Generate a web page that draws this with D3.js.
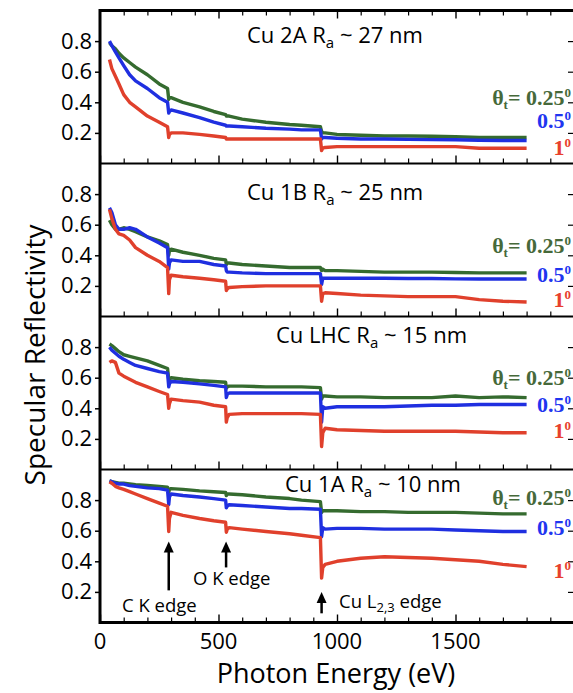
<!DOCTYPE html>
<html><head><meta charset="utf-8">
<script src="https://cdn.jsdelivr.net/npm/d3@7"></script>
<style>body{margin:0;background:#fff}svg{display:block}</style>
</head><body>
<svg id="chart" width="573" height="693"></svg>
<script>
// ---------- data ----------
const energy = [40, 50, 65, 80, 100, 125, 150, 200, 250, 285, 290, 293, 300, 350, 420, 480, 530, 533, 537, 545, 600, 700, 800, 850, 930, 935, 940, 950, 1000, 1100, 1200, 1300, 1400, 1500, 1600, 1700, 1800];

const panelNames = ["Cu 2A", "Cu 1B", "Cu LHC", "Cu 1A"];
const roughness = ["27", "25", "15", "10"];
const angleLabels = ["0.25", "0.5", "1"];
const xTicks = [0, 500, 1000, 1500];
const yTicks = [0.2, 0.4, 0.6, 0.8];
const edgeEnergies = [290, 532, 935];
const edgeLabels = ["C K edge", "O K edge", "Cu L"];

const cu2A_025 = [0.79,0.77,0.75,0.72,0.69,0.66,0.63,0.58,0.52,0.49,0.42,0.43,0.43,0.40,0.37,0.34,0.32,0.31,0.31,0.31,0.29,0.27,0.255,0.25,0.24,0.21,0.20,0.20,0.19,0.185,0.18,0.18,0.178,0.175,0.17,0.17,0.17];
const cu2A_05  = [0.80,0.77,0.73,0.69,0.64,0.58,0.54,0.49,0.43,0.40,0.33,0.34,0.35,0.33,0.30,0.27,0.25,0.245,0.245,0.245,0.24,0.23,0.225,0.22,0.22,0.16,0.17,0.17,0.165,0.16,0.16,0.158,0.156,0.155,0.152,0.15,0.15];
const cu2A_1   = [0.68,0.62,0.57,0.52,0.45,0.40,0.37,0.31,0.27,0.24,0.17,0.19,0.20,0.20,0.19,0.18,0.17,0.16,0.16,0.16,0.16,0.16,0.16,0.16,0.16,0.085,0.10,0.105,0.11,0.11,0.11,0.11,0.11,0.11,0.10,0.10,0.10];

const cu1B_025 = [0.63,0.60,0.57,0.57,0.58,0.57,0.555,0.52,0.495,0.47,0.40,0.43,0.44,0.42,0.40,0.38,0.37,0.34,0.35,0.35,0.34,0.33,0.32,0.32,0.32,0.30,0.31,0.30,0.30,0.295,0.29,0.29,0.29,0.288,0.285,0.285,0.285];
const cu1B_05  = [0.71,0.68,0.60,0.57,0.57,0.58,0.57,0.52,0.48,0.45,0.31,0.35,0.37,0.36,0.36,0.34,0.33,0.30,0.29,0.29,0.285,0.28,0.28,0.28,0.28,0.21,0.25,0.25,0.25,0.25,0.25,0.248,0.248,0.246,0.245,0.245,0.245];
const cu1B_1   = [0.70,0.64,0.57,0.54,0.53,0.50,0.45,0.40,0.36,0.32,0.15,0.24,0.27,0.26,0.25,0.24,0.23,0.17,0.18,0.19,0.195,0.20,0.20,0.20,0.20,0.10,0.15,0.155,0.15,0.14,0.135,0.13,0.13,0.13,0.11,0.10,0.095];

const cuLHC_025 = [0.82,0.81,0.79,0.77,0.75,0.74,0.73,0.71,0.68,0.66,0.59,0.59,0.60,0.59,0.58,0.575,0.57,0.53,0.54,0.545,0.545,0.54,0.54,0.54,0.535,0.46,0.48,0.48,0.475,0.475,0.47,0.47,0.47,0.48,0.47,0.475,0.47];
const cuLHC_05  = [0.80,0.78,0.76,0.74,0.72,0.70,0.68,0.66,0.64,0.63,0.54,0.56,0.575,0.57,0.56,0.55,0.54,0.47,0.49,0.50,0.50,0.50,0.50,0.50,0.50,0.31,0.41,0.40,0.41,0.41,0.41,0.415,0.42,0.42,0.425,0.425,0.425];
const cuLHC_1   = [0.70,0.71,0.70,0.63,0.61,0.59,0.57,0.54,0.51,0.49,0.40,0.43,0.46,0.45,0.44,0.42,0.41,0.31,0.34,0.36,0.365,0.365,0.365,0.365,0.36,0.15,0.24,0.27,0.26,0.255,0.25,0.25,0.25,0.25,0.245,0.24,0.24];

const cu1A_025 = [0.925,0.92,0.915,0.91,0.91,0.905,0.90,0.895,0.89,0.885,0.85,0.87,0.875,0.87,0.86,0.855,0.85,0.83,0.84,0.84,0.835,0.82,0.81,0.80,0.79,0.72,0.73,0.73,0.73,0.725,0.725,0.72,0.72,0.72,0.715,0.71,0.71];
const cu1A_05  = [0.925,0.92,0.91,0.905,0.905,0.895,0.89,0.88,0.875,0.865,0.77,0.82,0.84,0.83,0.82,0.81,0.80,0.75,0.76,0.77,0.765,0.755,0.745,0.745,0.74,0.56,0.62,0.61,0.615,0.615,0.61,0.61,0.61,0.605,0.60,0.595,0.595];
const cu1A_1   = [0.92,0.91,0.89,0.88,0.87,0.855,0.84,0.81,0.78,0.76,0.595,0.68,0.72,0.70,0.68,0.665,0.655,0.59,0.61,0.62,0.61,0.595,0.58,0.57,0.555,0.29,0.36,0.38,0.40,0.42,0.43,0.425,0.42,0.41,0.40,0.38,0.365];

const panelSeries = [
  [cu2A_025, cu2A_05, cu2A_1],
  [cu1B_025, cu1B_05, cu1B_1],
  [cuLHC_025, cuLHC_05, cuLHC_1],
  [cu1A_025, cu1A_05, cu1A_1]
];

// ---------- layout / style ----------
const lineColors = ["#356b2f", "#1f2fe0", "#e0402c"];
const textColors = ["#46693a", "#1f35f0", "#e8402c"];
const left = 100, right = 574, top0 = 10.5, panelH = 153;
const titleX = [247, 247, 276, 285];
const titleY = [43, 200, 343, 492];
const labelBaselines = [[105, 128, 155], [253, 282, 307], [385, 412, 438], [505, 535, 578]];
const sansFont = "'Open Sans', Lato, sans-serif";
const serifFont = "'Liberation Serif', 'DejaVu Serif', serif";

const svg = d3.select("#chart");
const x = d3.scaleLinear().domain([0, 2000]).range([left, right]);

panelSeries.forEach((series, k) => {
  const top = top0 + k * panelH, bottom = top + panelH;
  const y = d3.scaleLinear().domain([0, 1]).range([bottom, top]);
  const g = svg.append("g");

  series.forEach((vals, i) => {
    const line = d3.line().x((d, j) => x(energy[j])).y(d => y(d));
    g.append("path").datum(vals).attr("d", line)
      .attr("fill", "none").attr("stroke", lineColors[i])
      .attr("stroke-width", 3.4).attr("stroke-linejoin", "round");
  });

  const ya = d3.axisLeft(y).tickValues(yTicks).tickSize(5).tickPadding(3).tickFormat(d3.format(".1f"));
  const yg = g.append("g").attr("transform", `translate(${left},0)`).call(ya);
  yg.select(".domain").remove();
  yg.selectAll("line").attr("stroke", "#000").attr("stroke-width", 1.5);
  yg.selectAll("text").attr("font-family", sansFont).attr("font-size", 22).attr("fill", "#000");

  const yr = d3.axisRight(y).tickValues(yTicks).tickSize(-6).tickFormat("");
  const yrg = g.append("g").attr("transform", `translate(${right},0)`).call(yr);
  yrg.select(".domain").remove();
  yrg.selectAll("line").attr("stroke", "#000").attr("stroke-width", 1.2);

  const minor = d3.range(0, 2001, 100).filter(v => v % 500 !== 0);
  const xm = d3.axisBottom(x).tickValues(minor).tickSize(-5).tickFormat("");
  const xmg = g.append("g").attr("transform", `translate(0,${bottom})`).call(xm);
  xmg.select(".domain").remove();
  xmg.selectAll("line").attr("stroke", "#000").attr("stroke-width", 1.2);
  const xM = d3.axisBottom(x).tickValues([0, 500, 1000, 1500, 2000]).tickSize(-8).tickFormat("");
  const xMg = g.append("g").attr("transform", `translate(0,${bottom})`).call(xM);
  xMg.select(".domain").remove();
  xMg.selectAll("line").attr("stroke", "#000").attr("stroke-width", 1.4);

  if (k === 0) {
    const xt = d3.axisTop(x).tickValues(minor).tickSize(-5).tickFormat("");
    const xtg = g.append("g").attr("transform", `translate(0,${top})`).call(xt);
    xtg.select(".domain").remove();
    xtg.selectAll("line").attr("stroke", "#000").attr("stroke-width", 1.2);
    const xT = d3.axisTop(x).tickValues([500, 1000, 1500, 2000]).tickSize(-8).tickFormat("");
    const xTg = g.append("g").attr("transform", `translate(0,${top})`).call(xT);
    xTg.select(".domain").remove();
    xTg.selectAll("line").attr("stroke", "#000").attr("stroke-width", 1.4);
  }

  const t = g.append("text").attr("x", titleX[k]).attr("y", titleY[k])
    .attr("font-family", sansFont).attr("font-size", 22).attr("fill", "#000");
  t.append("tspan").text(panelNames[k] + " R");
  t.append("tspan").attr("font-size", 15).attr("dy", 5).text("a");
  t.append("tspan").attr("dy", -5).text(" ~ " + roughness[k] + " nm");

  angleLabels.forEach((lab, i) => {
    const tx = g.append("text").attr("x", 571).attr("y", labelBaselines[k][i])
      .attr("text-anchor", "end").attr("font-family", serifFont)
      .attr("font-weight", "bold").attr("font-size", 22).attr("fill", textColors[i]);
    if (i === 0) {
      tx.append("tspan").text("θ");
      tx.append("tspan").attr("font-size", 13).attr("dy", 4).text("t");
      tx.append("tspan").attr("dy", -4).text("= " + lab);
    } else {
      tx.append("tspan").text(lab);
    }
    tx.append("tspan").attr("font-size", 13).attr("dy", -8).text("0");
  });

  if (k < 3) {
    svg.append("line").attr("x1", left).attr("x2", right + 2).attr("y1", bottom).attr("y2", bottom)
      .attr("stroke", "#000").attr("stroke-width", 2);
  }
});

svg.append("line").attr("x1", left).attr("x2", left).attr("y1", top0 - 1.5).attr("y2", top0 + 4 * panelH + 1.5)
  .attr("stroke", "#000").attr("stroke-width", 3);
svg.append("line").attr("x1", left).attr("x2", right + 2).attr("y1", top0).attr("y2", top0)
  .attr("stroke", "#000").attr("stroke-width", 3);
svg.append("line").attr("x1", left).attr("x2", right + 2).attr("y1", top0 + 4 * panelH).attr("y2", top0 + 4 * panelH)
  .attr("stroke", "#000").attr("stroke-width", 3);

const xb = top0 + 4 * panelH;
svg.append("g").selectAll("text").data(xTicks).join("text")
  .attr("x", d => x(d)).attr("y", xb + 26).attr("text-anchor", "middle")
  .attr("font-family", sansFont).attr("font-size", 22).attr("fill", "#000").text(d => d);

svg.append("text").attr("x", 336).attr("y", 683).attr("text-anchor", "middle")
  .attr("font-family", sansFont).attr("font-size", 27).attr("fill", "#000").text("Photon Energy (eV)");
svg.append("text").attr("transform", "translate(45,355) rotate(-90)").attr("text-anchor", "middle")
  .attr("font-family", sansFont).attr("font-size", 28).attr("fill", "#000").text("Specular Reflectivity");

const p4top = top0 + 3 * panelH;
const yA = d3.scaleLinear().domain([0, 1]).range([p4top + panelH, p4top]);
const arrowSpecs = [
  { e: edgeEnergies[0], y1: 0.53, y2: 0.21 },
  { e: edgeEnergies[1], y1: 0.53, y2: 0.36 },
  { e: edgeEnergies[2], y1: 0.20, y2: 0.06 }
];
arrowSpecs.forEach(a => {
  const ax = x(a.e), yt = yA(a.y1), yb = yA(a.y2);
  svg.append("line").attr("x1", ax).attr("x2", ax).attr("y1", yt + 6).attr("y2", yb)
    .attr("stroke", "#000").attr("stroke-width", 2.5);
  svg.append("path").attr("d", `M${ax},${yt} L${ax - 5},${yt + 11} L${ax + 5},${yt + 11} Z`).attr("fill", "#000");
});
const annFont = 18.5;
svg.append("text").attr("x", 122).attr("y", 612).attr("font-family", sansFont).attr("font-size", annFont).text(edgeLabels[0]);
svg.append("text").attr("x", 193).attr("y", 585).attr("font-family", sansFont).attr("font-size", annFont).text(edgeLabels[1]);
const cuT = svg.append("text").attr("x", 339).attr("y", 608).attr("font-family", sansFont).attr("font-size", annFont);
cuT.append("tspan").text(edgeLabels[2]);
cuT.append("tspan").attr("font-size", 13).attr("dy", 4).text("2,3");
cuT.append("tspan").attr("dy", -4).text(" edge");
</script>
</body></html>
